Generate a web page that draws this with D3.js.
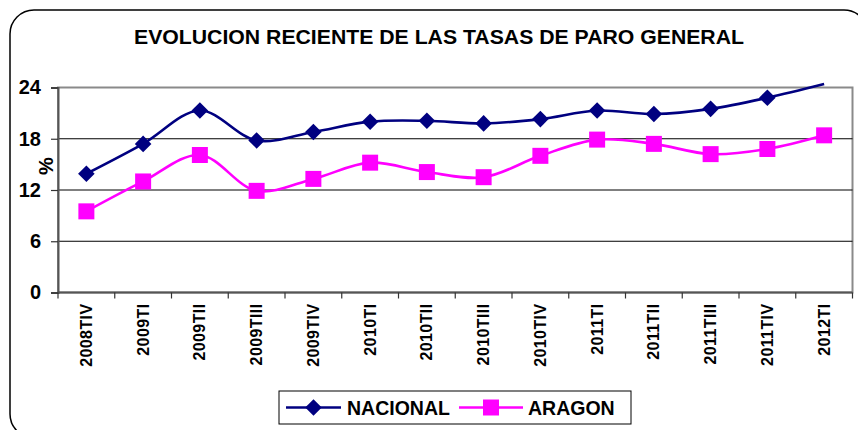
<!DOCTYPE html>
<html>
<head>
<meta charset="utf-8">
<script src="https://cdn.jsdelivr.net/npm/d3@7/dist/d3.min.js"></script>
<style>
  html, body { margin: 0; padding: 0; background: #fff; }
  svg { display: block; font-family: "Liberation Sans", Arial, sans-serif; }
</style>
</head>
<body>
<svg id="chart" width="858" height="430"></svg>
<script>
// Quarterly unemployment rates (%)
const categories = ["2008TIV", "2009TI", "2009TII", "2009TIII", "2009TIV", "2010TI", "2010TII",
  "2010TIII", "2010TIV", "2011TI", "2011TII", "2011TIII", "2011TIV", "2012TI"];
const nacional = [13.9, 17.4, 21.3, 17.8, 18.8, 20.0, 20.1, 19.8, 20.3, 21.3, 20.9, 21.5, 22.8, 24.4];
const aragon   = [9.5, 13.0, 16.1, 11.9, 13.3, 15.2, 14.1, 13.5, 16.0, 17.9, 17.4, 16.2, 16.8, 18.4];
const yTicks = [0, 6, 12, 18, 24];
const title = "EVOLUCION RECIENTE DE LAS TASAS DE PARO GENERAL";
const yLabel = "%";

const series = [
  { name: "NACIONAL", values: nacional, color: "#000080", symbol: d3.symbolDiamond2 },
  { name: "ARAGON", values: aragon, color: "#FF00FF", symbol: d3.symbolSquare }
];

const svg = d3.select("#chart");
const plot = { left: 58, right: 852.5, top: 87.5, bottom: 292.5 };

// Rounded outer frame
svg.append("rect")
  .attr("x", 10).attr("y", 10).attr("width", 858).attr("height", 428)
  .attr("rx", 24).attr("ry", 24)
  .attr("fill", "#fff").attr("stroke", "#000").attr("stroke-width", 1.5);

// Title
svg.append("text")
  .attr("x", 439).attr("y", 44)
  .attr("text-anchor", "middle")
  .attr("font-size", 20).attr("font-weight", "bold")
  .attr("textLength", 610).attr("lengthAdjust", "spacingAndGlyphs")
  .text(title);

const x = d3.scaleBand().domain(categories).range([plot.left, plot.right]).padding(0);
const y = d3.scaleLinear().domain([0, 24]).range([plot.bottom, plot.top]);

// Plot area border
svg.append("rect")
  .attr("x", plot.left).attr("y", plot.top)
  .attr("width", plot.right - plot.left).attr("height", plot.bottom - plot.top)
  .attr("fill", "none").attr("stroke", "#8a8a8a").attr("stroke-width", 2);

// Horizontal gridlines
svg.append("g").selectAll("line")
  .data(yTicks.filter(t => t > 0 && t < 24))
  .join("line")
  .attr("x1", plot.left).attr("x2", plot.right)
  .attr("y1", d => y(d)).attr("y2", d => y(d))
  .attr("stroke", "#000").attr("stroke-width", 1);

// Y axis
const yAxis = svg.append("g")
  .attr("transform", `translate(${plot.left},0)`)
  .call(d3.axisLeft(y).tickValues(yTicks).tickSize(7).tickPadding(10).tickFormat(d3.format("d")));
yAxis.select(".domain").attr("stroke", "#555").attr("stroke-width", 2);
yAxis.selectAll(".tick line").attr("stroke", "#333").attr("stroke-width", 1.2);
yAxis.selectAll(".tick text")
  .attr("font-size", 20).attr("font-weight", "bold").attr("fill", "#000")
  .attr("font-family", "'Liberation Sans', Arial, sans-serif");

// X axis: ticks on category boundaries, rotated labels
const xg = svg.append("g").attr("transform", `translate(0,${plot.bottom})`);
xg.append("line")
  .attr("x1", plot.left).attr("x2", plot.right)
  .attr("stroke", "#555").attr("stroke-width", 2);
const boundaries = categories.map(c => x(c)).concat([x(categories[categories.length - 1]) + x.bandwidth()]);
xg.selectAll("line.tick").data(boundaries).join("line")
  .attr("class", "tick")
  .attr("x1", d => d).attr("x2", d => d)
  .attr("y1", 0).attr("y2", 6)
  .attr("stroke", "#333").attr("stroke-width", 1.2);
xg.selectAll("text").data(categories).join("text")
  .attr("transform", d => `translate(${x(d) + x.bandwidth() / 2 + 5.5},11) rotate(-90)`)
  .attr("text-anchor", "end")
  .attr("font-size", 16).attr("font-weight", "bold")
  .attr("letter-spacing", 0.4)
  .text(d => d);

// Y axis label
svg.append("text")
  .attr("transform", "translate(53,166) rotate(-90)")
  .attr("text-anchor", "middle")
  .attr("font-size", 20).attr("font-weight", "bold")
  .text(yLabel);

// Smoothed lines and markers
const line = d3.line()
  .x((d, i) => x(categories[i]) + x.bandwidth() / 2)
  .y(d => y(d))
  .curve(d3.curveCatmullRom.alpha(0.5));

series.forEach(s => {
  svg.append("path")
    .datum(s.values)
    .attr("d", line)
    .attr("fill", "none")
    .attr("stroke", s.color)
    .attr("stroke-width", 2.6);
});

const markerSize = { NACIONAL: 175, ARAGON: 256 };
series.forEach(s => {
  const pts = s.values.map((v, i) => ({ v, c: categories[i] })).filter(p => p.v <= y.domain()[1]);
  svg.append("g").selectAll("path").data(pts).join("path")
    .attr("transform", p => `translate(${x(p.c) + x.bandwidth() / 2},${y(p.v)})`)
    .attr("d", d3.symbol().type(s.symbol).size(markerSize[s.name]))
    .attr("fill", s.color);
});

// Legend
const legend = svg.append("g");
legend.append("rect")
  .attr("x", 279).attr("y", 391).attr("width", 352).attr("height", 33)
  .attr("fill", "#fff").attr("stroke", "#000").attr("stroke-width", 1);
const legendItems = [
  { s: series[0], x0: 286, x1: 341, tx: 347 },
  { s: series[1], x0: 459, x1: 523, tx: 528 }
];
legendItems.forEach(it => {
  const cy = 407.5;
  legend.append("line")
    .attr("x1", it.x0).attr("x2", it.x1).attr("y1", cy).attr("y2", cy)
    .attr("stroke", it.s.color).attr("stroke-width", 2.6);
  legend.append("path")
    .attr("transform", `translate(${(it.x0 + it.x1) / 2},${cy})`)
    .attr("d", d3.symbol().type(it.s.symbol).size(markerSize[it.s.name]))
    .attr("fill", it.s.color);
  legend.append("text")
    .attr("x", it.tx).attr("y", cy + 7)
    .attr("font-size", 19.5).attr("font-weight", "bold")
    .text(it.s.name);
});
</script>
</body>
</html>
